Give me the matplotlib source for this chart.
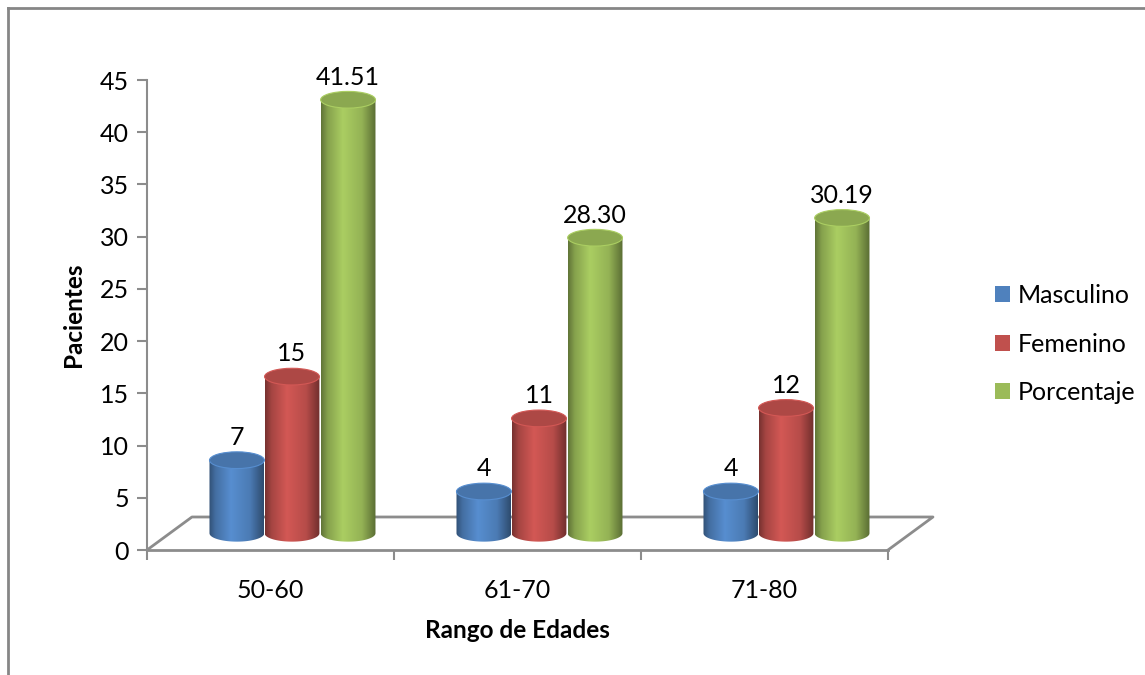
import numpy as np
import matplotlib.pyplot as plt
from matplotlib.path import Path
from matplotlib.patches import PathPatch, Ellipse, Patch
from matplotlib.lines import Line2D

plt.rcParams['font.family'] = ['Lato', 'DejaVu Sans']

categories = ['50-60', '61-70', '71-80']
series = ['Masculino', 'Femenino', 'Porcentaje']
masculino = [7, 4, 4]
femenino = [15, 11, 12]
porcentaje = [41.51, 28.30, 30.19]
value_labels = [['7', '4', '4'], ['15', '11', '12'], ['41.51', '28.30', '30.19']]
colors = ['#4f81bd', '#c0504d', '#9bbb59']

values = [masculino, femenino, porcentaje]

# layout of the fake 3d box
offsets = [-0.136, 0.087, 0.314]
bar_w = 0.222
base = 1.6
cap_h = 1.6
depth_x, depth_y = 0.182, 3.16
gray = '#8c8c8c'
fs = 18

fig = plt.figure(figsize=(11.45, 6.75), dpi=100)
ax = fig.add_axes([147 / 1145, 125 / 675, 741 / 1145, 470 / 675])

# floor parallelogram
fx = [-0.5, -0.5 + depth_x, 2.5 + depth_x, 2.5]
fy = [0, depth_y, depth_y, 0]
ax.plot(fx, fy, color=gray, lw=2, clip_on=False, zorder=1)
ax.plot([-0.5, 2.5], [0, 0], color=gray, lw=2, clip_on=False, zorder=1)


def shade(c, t):
    f = np.interp(t, [0, 0.12, 0.4, 0.75, 1], [0.62, 0.86, 1.1, 0.95, 0.58])
    rgb = np.array(plt.matplotlib.colors.to_rgb(c))
    return np.clip(rgb[None, :] * f[:, None], 0, 1)


th = np.linspace(np.pi, 2 * np.pi, 40)
for s in range(3):
    for c in range(3):
        xc = c + offsets[s]
        top = base + values[s][c]
        xl, xr = xc - bar_w / 2, xc + bar_w / 2
        arc = np.column_stack([xc + bar_w / 2 * np.cos(th),
                               base + cap_h / 2 * np.sin(th)])
        verts = np.vstack([[xl, top], arc, [xr, top], [xl, top]])
        path = Path(verts, closed=True)
        body = PathPatch(path, facecolor='none', edgecolor='none', zorder=2)
        ax.add_patch(body)
        t = np.linspace(0, 1, 200)
        img = shade(colors[s], t)[None, :, :]
        im = ax.imshow(img, extent=[xl, xr, base - cap_h, top], aspect='auto',
                       interpolation='bilinear', zorder=2)
        im.set_clip_path(body)
        rgb = np.array(plt.matplotlib.colors.to_rgb(colors[s]))
        ax.add_patch(Ellipse((xc, top), bar_w, cap_h,
                             facecolor=np.clip(rgb * 0.9, 0, 1),
                             edgecolor=np.clip(rgb * 1.1, 0, 1), lw=0.8, zorder=3))
        ax.annotate(value_labels[s][c], (xc, top + cap_h / 2), xytext=(0, 2),
                    textcoords='offset points', ha='center', va='bottom',
                    fontsize=fs, zorder=4)

ax.set_xlim(-0.5, 2.5)
ax.set_ylim(0, 45)
ax.set_yticks(np.arange(0, 46, 5))
ax.set_xticks([-0.5, 0.5, 1.5, 2.5])
ax.set_xticklabels([])
ax.set_xticks([0, 1, 2], minor=True)
ax.set_xticklabels(categories, minor=True)
ax.tick_params(axis='x', which='major', length=7, color=gray, width=1.5)
ax.tick_params(axis='x', which='minor', length=0, pad=21, labelsize=fs)
ax.tick_params(axis='y', length=7, color=gray, width=1.5, pad=6, labelsize=fs)
for sp in ['top', 'right', 'bottom']:
    ax.spines[sp].set_visible(False)
ax.spines['left'].set_color(gray)
ax.spines['left'].set_linewidth(1.5)
ax.set_facecolor('none')

ax.set_ylabel('Pacientes', fontsize=17.5, fontweight='bold', labelpad=11)
ax.set_xlabel('Rango de Edades', fontsize=17.5, fontweight='bold', labelpad=12)

handles = [Patch(facecolor=colors[i], edgecolor='none') for i in range(3)]
fig.legend(handles, series, loc='center left', bbox_to_anchor=(972 / 1145, 331 / 675),
           frameon=False, fontsize=fs, handlelength=0.6, handleheight=0.6,
           handletextpad=0.35, labelspacing=1.02)

# outer chart border
fig.add_artist(Line2D([8 / 1145, 8 / 1145], [0, 667 / 675], color='#868686', lw=2))
fig.add_artist(Line2D([8 / 1145, 1], [667 / 675, 667 / 675], color='#868686', lw=2))

fig.savefig('out.png', dpi=100)
